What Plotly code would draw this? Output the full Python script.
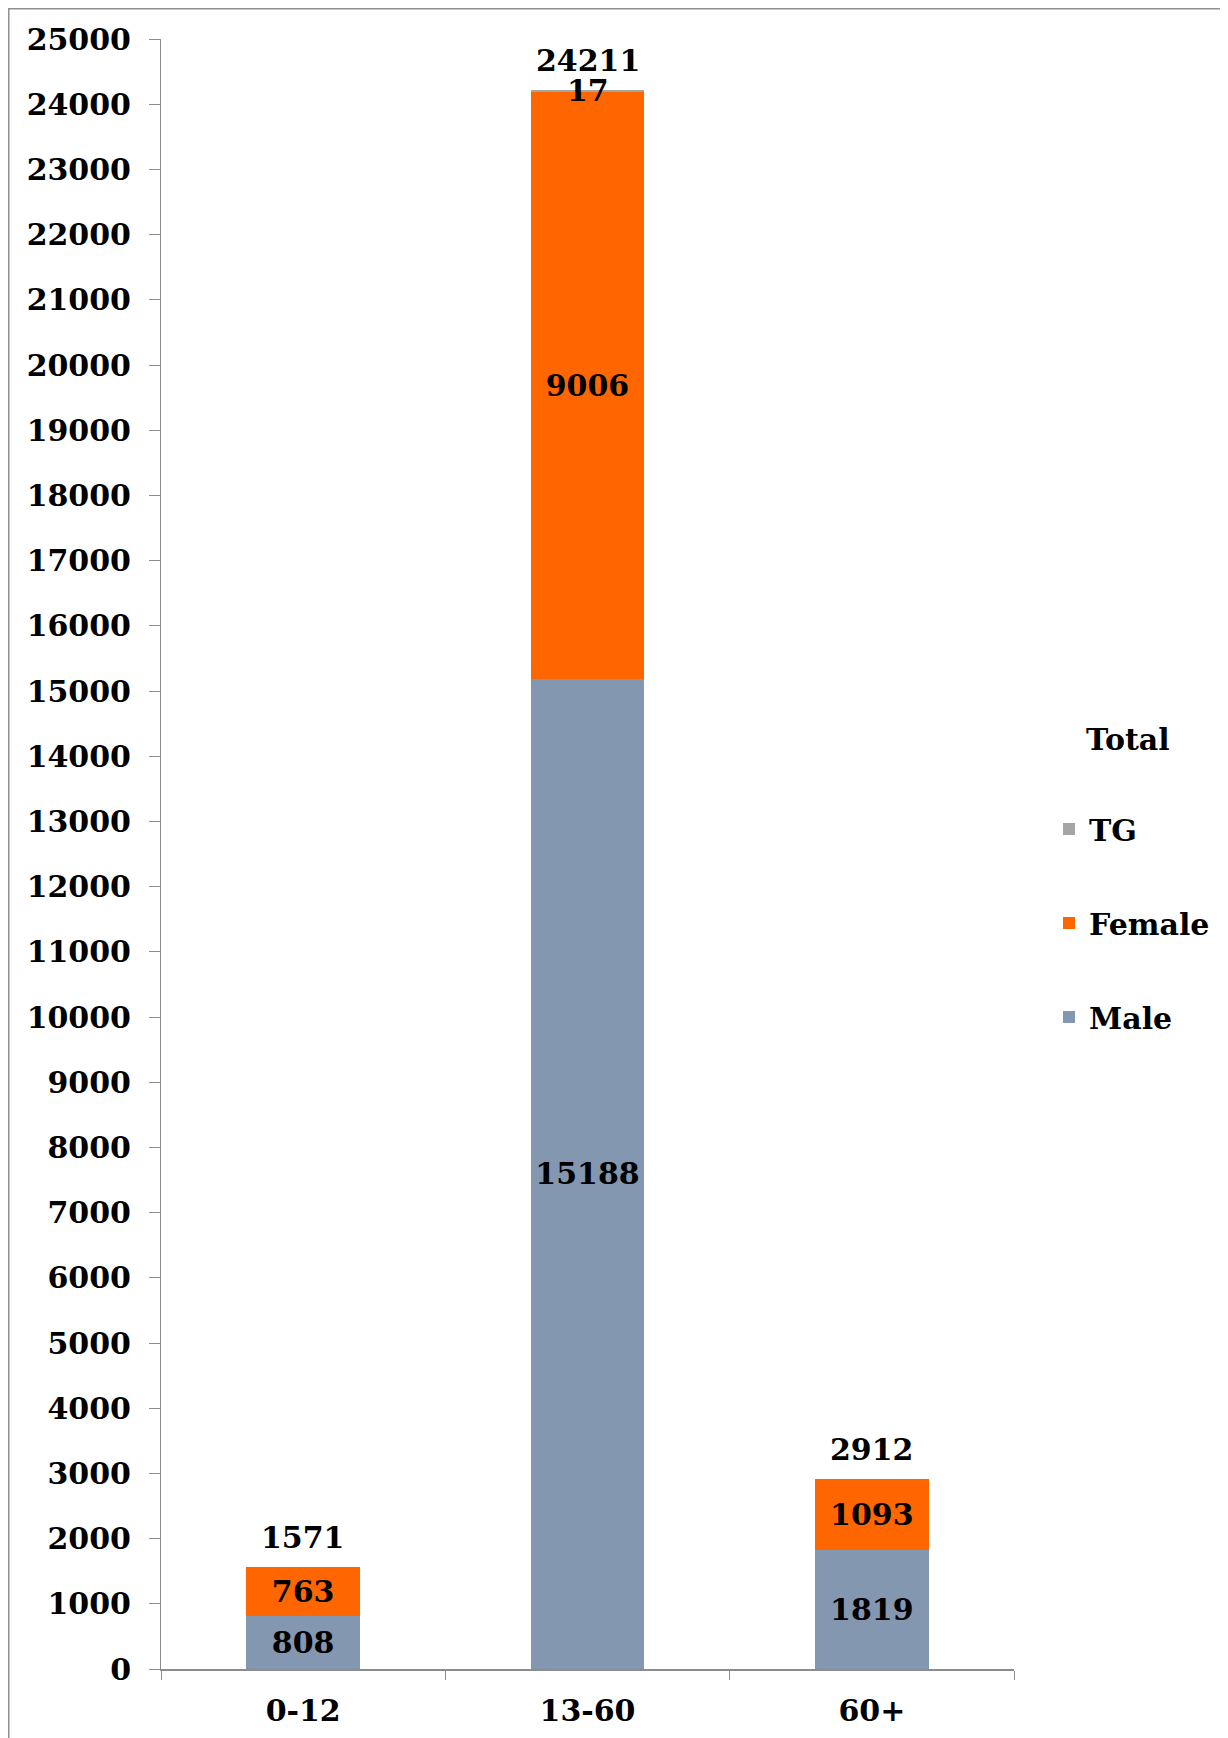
import plotly.graph_objects as go

categories = ["0-12", "13-60", "60+"]
male = [808, 15188, 1819]
female = [763, 9006, 1093]
tg = [0, 17, 0]
totals = [1571, 24211, 2912]
y_ticks = list(range(0, 25001, 1000))

W, H = 1228, 1738
L, R, T, B = 153, 222, 31, 77
pw, ph = W - L - R, H - T - B

FONT = "DejaVu Serif"
FS = 30
fnt = dict(family=FONT, size=FS, color="black", weight="bold")

fig = go.Figure()
fig.add_trace(go.Bar(x=categories, y=male, name="Male", marker=dict(color="#8497B0", line=dict(width=0)),
                     text=male, texttemplate="%{text}", textposition="inside", insidetextanchor="middle",
                     textfont=fnt, legendgroup="m", legendrank=3, width=0.4))
fig.add_trace(go.Bar(x=categories, y=female, name="Female", marker=dict(color="#FF6600", line=dict(width=0)),
                     text=female, texttemplate="%{text}", textposition="inside", insidetextanchor="middle",
                     textfont=fnt, legendgroup="f", legendrank=2, width=0.4))
fig.add_trace(go.Bar(x=categories, y=tg, name="TG", marker=dict(color="#A5A5A5", line=dict(width=0)),
                     textposition="none", legendgroup="t", legendrank=1, width=0.4))

# TG label (only non-zero)
for c, v, tot in zip(categories, tg, totals):
    if v:
        fig.add_annotation(x=c, y=tot, text=str(v), showarrow=False, font=fnt, yanchor="middle")
# totals
for c, tot in zip(categories, totals):
    fig.add_annotation(x=c, y=tot, text=str(tot), showarrow=False, font=fnt, yanchor="bottom", yshift=10)

# legend title
fig.add_annotation(xref="paper", yref="paper", x=(1120 - L) / pw, y=((H - B) - 732) / ph,
                   text="Total", showarrow=False, font=fnt, xanchor="center", yanchor="middle")

# outer frame
fig.add_shape(type="rect", xref="paper", yref="paper",
              x0=(0.5 - L) / pw, x1=(W + 50 - L) / pw,
              y0=-(H + 50 - (H - B)) / ph, y1=((H - B) - 0.5) / ph,
              line=dict(color="#909090", width=2), fillcolor="rgba(0,0,0,0)", layer="below")

fig.update_layout(
    width=W, height=H,
    margin=dict(l=L, r=R, t=T, b=B),
    barmode="stack",
    plot_bgcolor="white", paper_bgcolor="white",
    font=fnt,
    showlegend=True,
    legend=dict(
        x=(1041 - L) / pw, xanchor="left",
        y=((H - B) - 795) / ph, yanchor="top",
        traceorder="grouped", tracegroupgap=52,
        font=fnt,
        bgcolor="rgba(0,0,0,0)",
    ),
    xaxis=dict(
        showline=True, linecolor="#8C8C8C", linewidth=2,
        ticks="outside", tickson="boundaries", ticklen=9, tickcolor="#8C8C8C", tickwidth=1,
        tickfont=fnt, showgrid=False, zeroline=False, ticklabelstandoff=14,
    ),
    yaxis=dict(
        range=[0, 25000], tickvals=y_ticks, ticktext=[str(v) for v in y_ticks],
        showline=True, linecolor="#8C8C8C", linewidth=1,
        ticks="outside", ticklen=11, tickcolor="#8C8C8C", tickwidth=1,
        tickfont=fnt, showgrid=False, zeroline=False, ticklabelstandoff=12,
    ),
)

fig.write_html("out.html")
